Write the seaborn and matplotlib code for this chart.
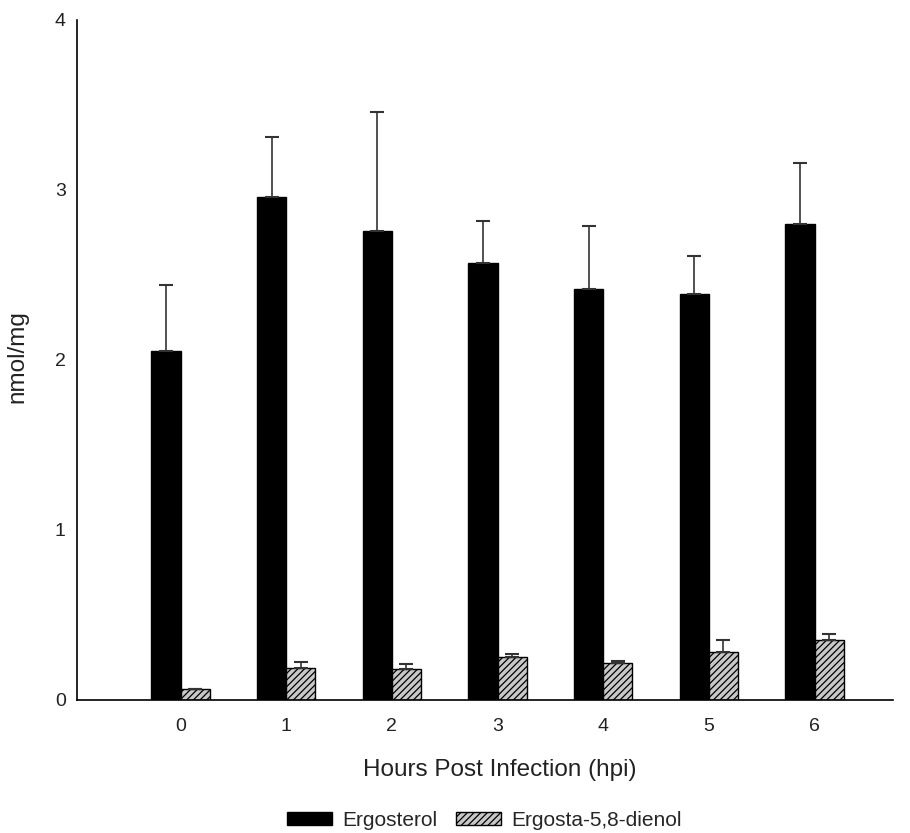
import matplotlib
matplotlib.use("Agg")
import matplotlib.pyplot as plt
import seaborn as sns
import pandas as pd
import numpy as np
from matplotlib.patches import Patch

hpi = ["0", "1", "2", "3", "4", "5", "6"]
ergosterol = [2.05, 2.96, 2.76, 2.57, 2.42, 2.39, 2.80]
ergosterol_err = [0.39, 0.35, 0.70, 0.25, 0.37, 0.22, 0.36]
dienol = [0.065, 0.19, 0.18, 0.25, 0.22, 0.28, 0.35]
dienol_err = [0.0, 0.035, 0.03, 0.02, 0.01, 0.07, 0.04]
series = ["Ergosterol", "Ergosta-5,8-dienol"]

df = pd.DataFrame({
    "hpi": hpi * 2,
    "value": ergosterol + dienol,
    "compound": [series[0]] * len(hpi) + [series[1]] * len(hpi),
})

sns.set_style("white")
plt.rcParams["font.family"] = ["Liberation Sans", "DejaVu Sans"]
plt.rcParams["hatch.color"] = "#333333"
plt.rcParams["hatch.linewidth"] = 0.9

fig = plt.figure(figsize=(9.10, 8.33), dpi=100)
ax = fig.add_axes([0.0846, 0.1597, 0.8964, 0.8163])

sns.barplot(data=df, x="hpi", y="value", hue="compound", order=hpi,
            hue_order=series, palette=["black", "#c8c8c8"], width=0.55,
            gap=0, errorbar=None, ax=ax, saturation=1, legend=False)

patches = ax.patches
n = len(hpi)
for i, p in enumerate(patches[:2 * n]):
    p.set_edgecolor("black")
    p.set_linewidth(1.0)
    if i >= n:
        p.set_hatch("/////")

errs = [ergosterol_err, dienol_err]
vals = [ergosterol, dienol]
for s in range(2):
    xs = [patches[s * n + k].get_x() + patches[s * n + k].get_width() / 2 for k in range(n)]
    ax.errorbar(xs, vals[s], yerr=[np.zeros(n), errs[s]], fmt="none",
                ecolor="#333333", elinewidth=1.2, capsize=5, capthick=1.5, zorder=1)

ax.set_ylim(0, 4)
ax.set_xlim(-0.98, 6.74)
ax.set_yticks([0, 1, 2, 3, 4])
ax.set_yticklabels(["0", "1", "2", "3", "4"])
ax.tick_params(axis="both", length=0, labelsize=14, colors="#222222")
ax.tick_params(axis="y", pad=8)
ax.tick_params(axis="x", pad=13)
for s in ["top", "right"]:
    ax.spines[s].set_visible(False)
for s in ["left", "bottom"]:
    ax.spines[s].set_color("black")
    ax.spines[s].set_linewidth(1.2)

ax.set_xlabel("Hours Post Infection (hpi)", fontsize=17.5, color="#222222", labelpad=20)
ax.xaxis.set_label_coords(0.518, -0.087)
ax.set_ylabel("nmol/mg", fontsize=17.5, color="#222222")
ax.yaxis.set_label_coords(-0.059, 0.505)

handles = [Patch(facecolor="black", edgecolor="black", label=series[0]),
           Patch(facecolor="#c8c8c8", edgecolor="black", hatch="/////", label=series[1])]
fig.legend(handles=handles, loc="center", bbox_to_anchor=(0.532, 0.015), ncol=2,
           frameon=False, fontsize=15, handlelength=2.16, handleheight=0.63,
           columnspacing=0.9, handletextpad=0.48, borderpad=0)

fig.savefig("out.png", dpi=100)
